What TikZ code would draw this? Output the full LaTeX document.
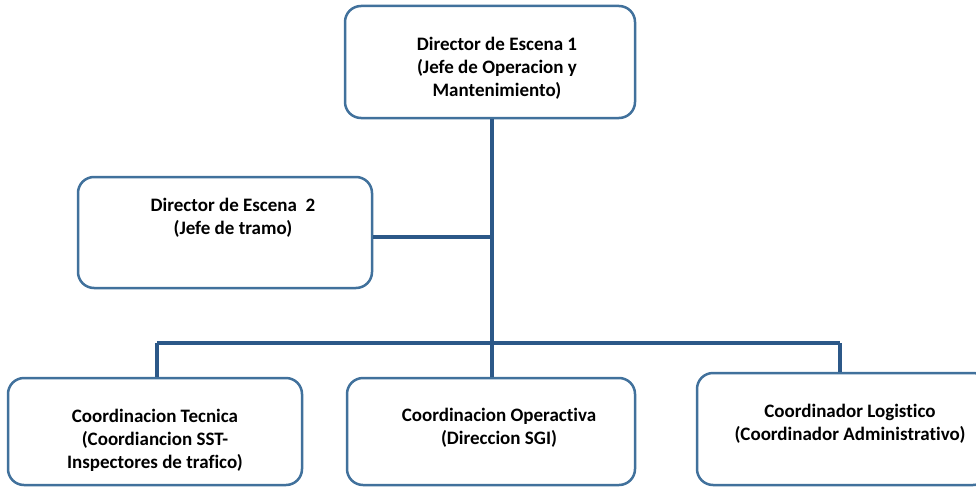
\documentclass[tikz,border=0pt]{standalone}
\usepackage{fontspec}
\setmainfont{Carlito}[Ligatures=NoCommon]
\usetikzlibrary{positioning}
\definecolor{boxblue}{RGB}{65,113,156}
\definecolor{linknavy}{RGB}{44,88,136}

\tikzset{
    orgbox/.style={draw=boxblue, line width=2.5pt, rounded corners=16pt, fill=white, minimum width=#1, inner sep=0pt},
    orgtext/.style={align=center, font=\fontsize{19}{23}\selectfont\bfseries, inner sep=0pt},
    link/.style={draw=linknavy, line width=4pt}
}

\begin{document}
\begin{tikzpicture}[x=1pt, y=-1pt]
    \useasboundingbox (0,0) rectangle (976,487);
    \clip (0,0) rectangle (976,487);

    % connectors first, boxes on top
    \coordinate (trunk) at (492,118);
    \coordinate (midjoin) at (492,237);
    \coordinate (bar) at (492,343);
    \coordinate (barL) at (157,343);
    \coordinate (barR) at (840,343);

    \node[orgbox=290pt, minimum height=112pt] (dir1) at (490,62) {};
    \node[orgtext, below=32pt of dir1.north, xshift=7pt] (dir1t) {Director de Escena 1\\(Jefe de Operacion y\\Mantenimiento)};

    \node[orgbox=294pt, minimum height=111pt] (dir2) at (225,232.5) {};
    \node[orgtext, below=22pt of dir2.north, xshift=8pt] (dir2t) {Director de Escena~~2\\(Jefe de tramo)};

    \node[orgbox=294pt, minimum height=107pt] (coordT) at (155,431.5) {};
    \node[orgtext, below=32pt of coordT.north] (coordTt) {Coordinacion Tecnica\\(Coordiancion SST-\\Inspectores de trafico)};

    \node[orgbox=288pt, minimum height=107pt] (coordO) at (491,431.5) {};
    \node[orgtext, below=31pt of coordO.north, xshift=8pt] (coordOt) {Coordinacion Operactiva\\(Direccion SGI)};

    \node[orgbox=292pt, minimum height=112pt] (coordL) at (843,429) {};
    \node[orgtext, below=32pt of coordL.north, xshift=7pt] (coordLt) {Coordinador Logistico\\(Coordinador Administrativo)};

    \draw[link] (dir1.south -| trunk) -- (bar);
    \draw[link] (dir2.east |- midjoin) -- (midjoin);
    \draw[link] (barL) -- (barR);
    \draw[link] (barL) -- (coordT.north -| barL);
    \draw[link] (bar) -- (coordO.north -| bar);
    \draw[link] (barR) -- (coordL.north -| barR);
\end{tikzpicture}
\end{document}
